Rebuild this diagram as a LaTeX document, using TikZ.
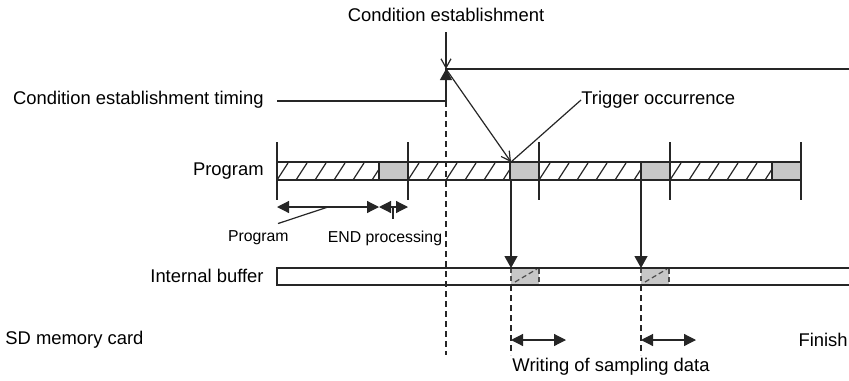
\documentclass[tikz,border=0pt]{standalone}
\usepackage{fontspec}
\setmainfont{Liberation Sans}
\usetikzlibrary{arrows.meta}
\tikzset{
  lbl/.style={font=\fontsize{9.2}{11}\selectfont, inner sep=0pt},
  small/.style={font=\fontsize{7.9}{9.5}\selectfont, inner sep=0pt},
  ln/.style={draw=black!85, line width=0.6pt},
  endblk/.style={fill=black!22, draw=black!85, line width=0.6pt},
  bufblk/.style={fill=black!22, draw=black!70, line width=0.6pt, dash pattern=on 2.5pt off 1.5pt},
  guide/.style={draw=black!85, line width=0.6pt, dash pattern=on 3pt off 2pt},
  dbl/.style={ln, {Triangle[length=6pt,width=6pt]}-{Triangle[length=6pt,width=6pt]}},
  down/.style={ln, -{Triangle[length=6pt,width=6.5pt]}},
  barb/.style={ln, -{Straight Barb[length=4.5pt,width=5pt]}}
}
\begin{document}
\begin{tikzpicture}[x=0.5pt,y=-0.5pt]
\useasboundingbox (0,0) rectangle (849,380);
% texts
\node[lbl] (cond) at (446,15) {Condition establishment};
\node[lbl,anchor=east] (timing) at (264,100) {Condition establishment timing};
\node[lbl,anchor=west] (trig) at (581,100) {Trigger occurrence};
\node[lbl,anchor=east] (prog) at (264,171) {Program};
\node[lbl,anchor=east] (buf) at (264,276) {Internal buffer};
\node[lbl,anchor=west] (sd) at (5,340) {SD memory card};
\node[lbl,anchor=east] (fin) at (848,340) {Finish};
\node[lbl] (wr) at (611,367) {Writing of sampling data};
\node[small,anchor=east] (lprog) at (289,238) {Program};
\node[small] (lend) at (385,238) {END processing};
% points
\coordinate (lo) at (277,101);
\coordinate (rise) at (446,101);
\coordinate (edge) at (446,69);
\coordinate (hi) at (849,69);
\coordinate (trg) at (511,162);
\coordinate (trg2) at (641,180);
\coordinate (trgb) at (511,180);
\coordinate (bufa) at (511,268);
\coordinate (bufb) at (641,268);
% condition signal
\draw[ln] (lo) -- (rise) -- (edge) -- (hi);
\draw[ln,-{Triangle[length=5.5pt,width=6pt]}] (rise) -- (edge);
\draw[barb,shorten <=5pt] (cond.south) -- (edge);
\draw[barb] (edge) -- (trg);
\draw[ln] (trig.west) -- (trg);
% program bar
\foreach \s in {277,408,539,670} {
  \begin{scope}
    \clip (\s,162) rectangle (\s+102,180);
    \foreach \k in {0,...,5}
      \draw[ln] (\s+\k*19,180) -- (\s+\k*19+11,163);
  \end{scope}
  \fill[endblk] (\s+102,162) rectangle (\s+131,180);
}
\draw[ln] (277,162) rectangle (801,180);
\foreach \t in {277,408,539,670,801}
  \draw[ln] (\t,142) -- (\t,200);
% program / END spans
\coordinate (sa) at (277,207);
\coordinate (sb) at (379,207);
\coordinate (sc) at (408,207);
\draw[dbl] (sa) -- (sb);
\draw[dbl] (sb) -- (sc);
\coordinate (pa) at (328,207);
\coordinate (pe) at (393,207);
\draw[ln] (pa) -- ([xshift=-5.5pt,yshift=3.5pt]lprog.north east);
\draw[ln] (pe) -- ([xshift=4pt,yshift=5.5pt]lend.north);
% internal buffer
\foreach \s in {511,641} {
  \fill[black!22] (\s,268) rectangle (\s+28,285);
  \draw[bufblk] (\s,268) rectangle (\s+28,285);
  \draw[bufblk] (\s+4,282) -- (\s+26,269);
}
\draw[ln] (849,268) -- (277,268) -- (277,285) -- (849,285);
\draw[down] (trgb) -- (bufa);
\draw[down] (trg2) -- (bufb);
% guides
\draw[guide] (rise) -- (446,355);
\draw[guide] (511,285) -- (511,355);
\draw[guide] (641,285) -- (641,355);
% writing spans
\coordinate (wa) at (511,340);
\coordinate (wb) at (566,340);
\coordinate (wc) at (641,340);
\coordinate (wd) at (696,340);
\draw[dbl] (wa) -- (wb);
\draw[dbl] (wc) -- (wd);
\end{tikzpicture}
\end{document}
